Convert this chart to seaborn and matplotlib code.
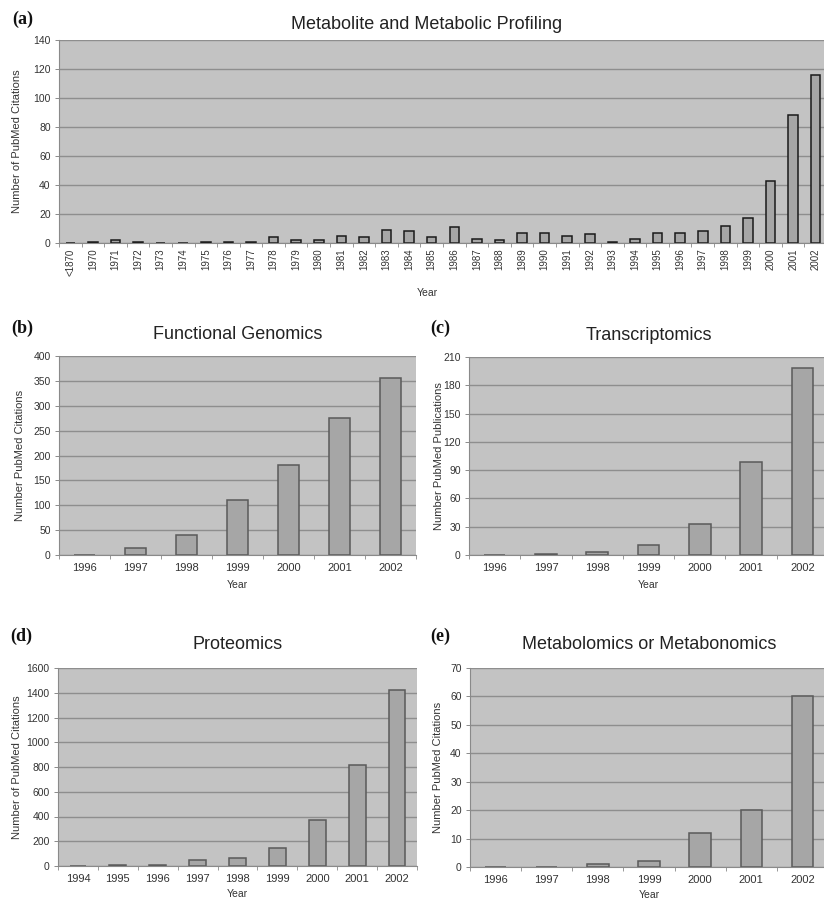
import numpy as np
import matplotlib
matplotlib.use('Agg')
import matplotlib.pyplot as plt
import seaborn as sns

# data
years_a = ['<1870'] + [str(y) for y in range(1970, 2003)]
vals_a = [0, 1, 2, 1, 0, 0, 1, 1, 1, 4, 2, 2, 5, 4, 9, 8, 4, 11, 3, 2,
          7, 7, 5, 6, 1, 3, 7, 7, 8, 12, 17, 43, 88, 116]

years_b = ['1996', '1997', '1998', '1999', '2000', '2001', '2002']
vals_b = [0, 15, 41, 110, 181, 275, 355]

years_c = ['1996', '1997', '1998', '1999', '2000', '2001', '2002']
vals_c = [0, 1, 3, 11, 33, 99, 198]

years_d = ['1994', '1995', '1996', '1997', '1998', '1999', '2000', '2001', '2002']
vals_d = [0, 6, 6, 48, 67, 148, 371, 815, 1420]

years_e = ['1996', '1997', '1998', '1999', '2000', '2001', '2002']
vals_e = [0, 0, 1, 2, 12, 20, 60]

sns.set_theme(style='white')
plt.rcParams['font.family'] = ['Liberation Sans', 'DejaVu Sans']

W, H = 824, 901
fig = plt.figure(figsize=(W / 100, H / 100), dpi=100)


def px_axes(left, top, right, bottom):
    return fig.add_axes([left / W, 1 - bottom / H, (right - left) / W, (bottom - top) / H])


def panel(ax, cats, vals, ymax, ystep, title, ylabel, edge, ylab_x, xlab_y,
          title_pad, rot=0, xsize=8, xpad=6):
    sns.barplot(x=cats, y=vals, ax=ax, color='#a6a6a6', saturation=1,
                edgecolor=edge, linewidth=1.1, width=0.42)
    ax.set_facecolor('#c3c3c3')
    ax.set_ylim(0, ymax)
    ax.set_xlim(-0.5, len(cats) - 0.5)
    ax.set_yticks(np.arange(0, ymax + 1, ystep))
    ax.yaxis.grid(True, color='#8e8e8e', linewidth=1)
    ax.set_axisbelow(True)
    for s in ['top', 'right']:
        ax.spines[s].set_visible(False)
    for s in ['left', 'bottom']:
        ax.spines[s].set_color('#8a8a8a')
        ax.spines[s].set_linewidth(0.8)
    ax.tick_params(axis='y', left=True, length=3, width=0.6, color='#777777',
                   labelsize=7.5, pad=3, labelcolor='#333333')
    ax.tick_params(axis='x', bottom=True, length=0, labelsize=xsize, pad=xpad,
                   labelcolor='#333333', labelrotation=rot)
    ax.set_xticks(np.arange(-0.5, len(cats)), minor=True)
    ax.tick_params(axis='x', which='minor', bottom=True, length=3,
                   width=0.6, color='#888888')
    ax.set_xlabel('Year', fontsize=7.5, color='#333333')
    ax.set_ylabel(ylabel, fontsize=8, color='#333333')
    bb = ax.get_position()
    ax.yaxis.set_label_coords((ylab_x / W - bb.x0) / bb.width, 0.5)
    ax.xaxis.set_label_coords(0.5, xlab_y)
    ax.set_title(title, fontsize=13, color='#222222', pad=title_pad)


def letter(x, y, s):
    fig.text(x / W, 1 - y / H, s, fontsize=13, fontweight='bold',
             family='Liberation Serif', color='#111111', va='top', ha='left')


ax_a = px_axes(59, 40, 827, 243)
panel(ax_a, years_a, vals_a, 140, 20, 'Metabolite and Metabolic Profiling',
      'Number of PubMed Citations', '#1a1a1a', 22, -0.222, 8, rot=90,
      xsize=7, xpad=4)
ax_a.title.set_x(0.479)
ax_a.xaxis.set_label_coords(0.479, -0.222)

ax_b = px_axes(59, 356, 416, 555)
panel(ax_b, years_b, vals_b, 400, 50, 'Functional Genomics',
      'Number PubMed Citations', '#5a5a5a', 25, -0.126, 12)

ax_c = px_axes(469, 357, 828, 555)
panel(ax_c, years_c, vals_c, 210, 30, 'Transcriptomics',
      'Number PubMed Publications', '#5a5a5a', 444, -0.126, 12)

ax_d = px_axes(58, 668, 417, 866)
panel(ax_d, years_d, vals_d, 1600, 200, 'Proteomics',
      'Number of PubMed Citations', '#5a5a5a', 22, -0.118, 14)

ax_e = px_axes(470, 668, 828, 867)
panel(ax_e, years_e, vals_e, 70, 10, 'Metabolomics or Metabonomics',
      'Number PubMed Citations', '#5a5a5a', 443, -0.118, 14)

letter(12, 11, '(a)')
letter(11, 320, '(b)')
letter(430, 320, '(c)')
letter(10, 628, '(d)')
letter(430, 628, '(e)')

fig.savefig('out.png', dpi=100, facecolor='white')
